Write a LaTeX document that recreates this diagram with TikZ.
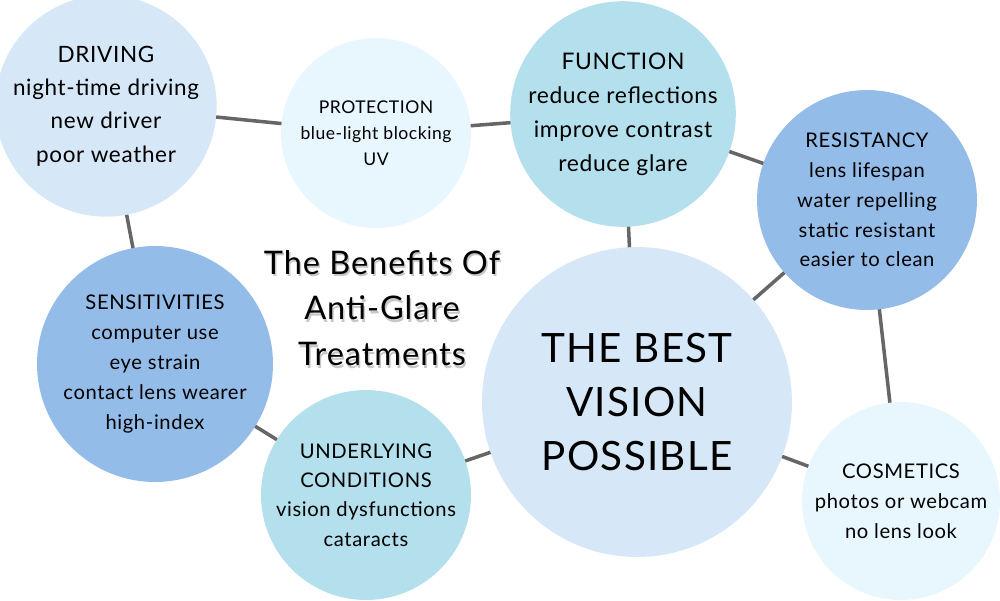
\documentclass[tikz,border=0pt]{standalone}
\usepackage{fontspec}
\setmainfont{Lato}[LetterSpace=3]
\definecolor{paleblue}{HTML}{D6E8F7}
\definecolor{iceblue}{HTML}{E8F6FD}
\definecolor{aquablue}{HTML}{B4E0EE}
\definecolor{midblue}{HTML}{94BCE8}
\definecolor{linkgray}{HTML}{666666}
\begin{document}
\begin{tikzpicture}[x=0.02cm, y=-0.02cm,
    bubble/.style={circle, fill=#1, inner sep=0pt, outer sep=0pt, align=center},
    link/.style={draw=linkgray, line width=2pt},
    headline/.style={font=\fontsize{18.5}{26}\selectfont, align=center}]

    \useasboundingbox (0,0) rectangle (1000,600);

    % ==========================================
    % 1. Cerchi dei benefici
    % ==========================================
    \node[bubble=paleblue, minimum size=4.2cm, font=\fontsize{12.8}{19}\selectfont] (driving) at (106,106)
        {DRIVING\\night-time driving\\new driver\\poor weather};
    \node[bubble=iceblue, minimum size=3.8cm, font=\fontsize{10}{14.8}\selectfont] (protection) at (376,133)
        {PROTECTION\\blue-light blocking\\UV};
    \node[bubble=aquablue, minimum size=4.5cm, font=\fontsize{13}{19.3}\selectfont] (function) at (623,114)
        {FUNCTION\\reduce reflections\\improve contrast\\reduce glare};
    \node[bubble=midblue, minimum size=4.4cm, font=\fontsize{11.5}{17}\selectfont] (resistancy) at (867,200)
        {RESISTANCY\\lens lifespan\\water repelling\\static resistant\\easier to clean};
    \node[bubble=midblue, minimum size=4.72cm, font=\fontsize{11.5}{17}\selectfont] (sensitivities) at (155,364)
        {SENSITIVITIES\\computer use\\eye strain\\contact lens wearer\\high-index};
    \node[bubble=aquablue, minimum size=4.2cm, font=\fontsize{11.5}{16.7}\selectfont] (underlying) at (366,495)
        {UNDERLYING\\CONDITIONS\\vision dysfunctions\\cataracts};
    \node[bubble=iceblue, minimum size=3.96cm, font=\fontsize{11.5}{17}\selectfont] (cosmetics) at (901,501)
        {COSMETICS\\photos or webcam\\no lens look};
    \node[bubble=paleblue, minimum size=6.2cm, font=\fontsize{23}{30.6}\selectfont] (best) at (637,402)
        {THE BEST\\VISION\\POSSIBLE};

    % ==========================================
    % 2. Titolo (con ombra)
    % ==========================================
    \node[headline, text=black!22] (titleshadow) at (383.5,310.5)
        {The Benefits Of\\Anti-Glare\\Treatments};
    \node[headline] (title) at (382,308)
        {The Benefits Of\\Anti-Glare\\Treatments};

    % ==========================================
    % 3. Collegamenti
    % ==========================================
    \draw[link] (driving) -- (protection);
    \draw[link] (protection) -- (function);
    \draw[link] (function) -- (resistancy);
    \draw[link] (function) -- (best);
    \draw[link] (resistancy) -- (best);
    \draw[link] (resistancy) -- (cosmetics);
    \draw[link] (best) -- (cosmetics);
    \draw[link] (best) -- (underlying);
    \draw[link] (underlying) -- (sensitivities);
    \draw[link] (sensitivities) -- (driving);

\end{tikzpicture}
\end{document}
